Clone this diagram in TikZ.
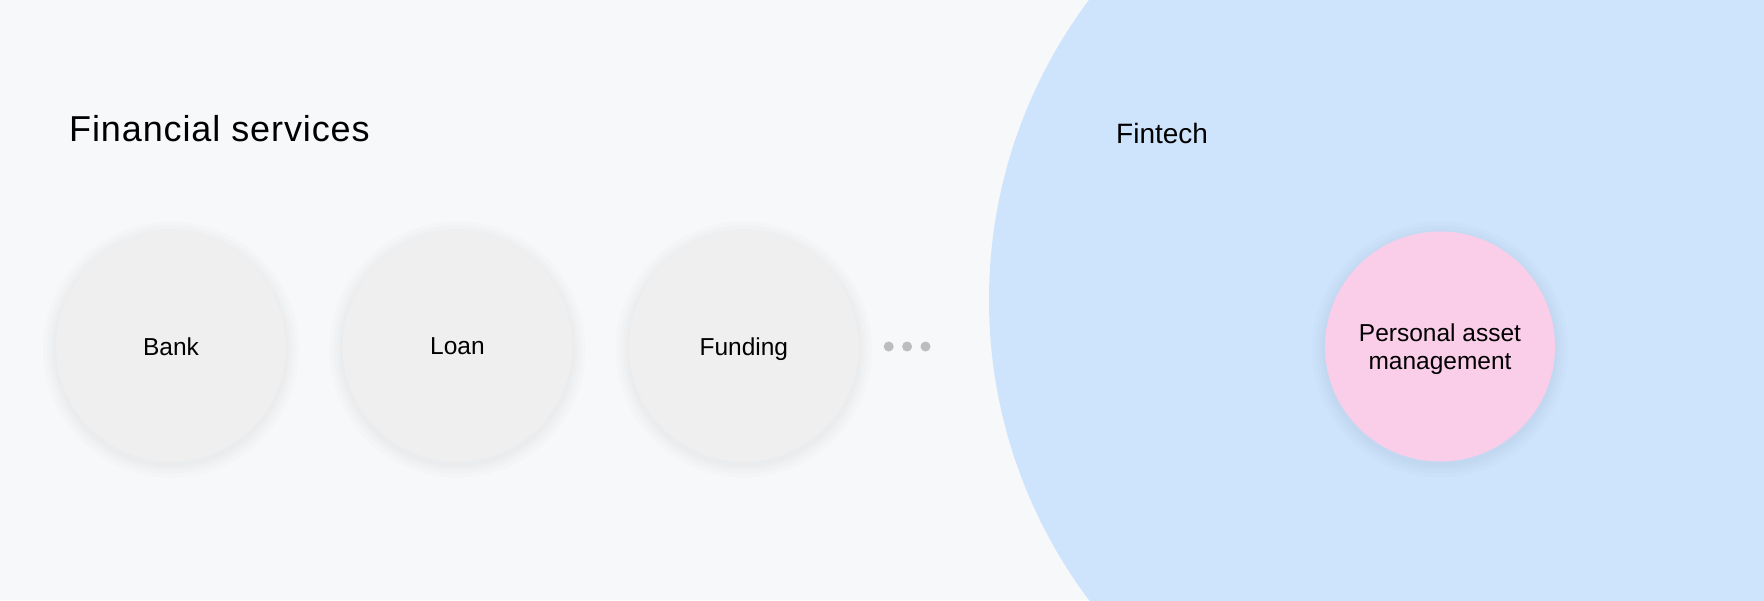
\documentclass[tikz,border=0pt]{standalone}
\usepackage{fontspec}
\setmainfont{Liberation Sans}
\newfontfamily\titlefont[LetterSpace=2.5]{Liberation Sans}
\usepackage{xcolor}
\usetikzlibrary{positioning}

\definecolor{pagebg}{HTML}{F7F8FA}
\definecolor{servicefill}{HTML}{EFEFEF}
\definecolor{fintechfill}{HTML}{CEE4FD}
\definecolor{pamfill}{HTML}{FACDE9}
\definecolor{dotgray}{HTML}{BDBDBD}
\definecolor{shadowgray}{HTML}{5A6070}

\begin{document}
\begin{tikzpicture}[
    x=1pt, y=-1pt,
    node distance=56pt,
    service/.style={circle, fill=servicefill, minimum size=230pt, inner sep=0pt, text depth=0pt, font=\fontsize{24.5}{28.5}\selectfont,
        preaction={draw=shadowgray, draw opacity=0.018, line width=26pt, transform canvas={yshift=-3pt}},
        preaction={draw=shadowgray, draw opacity=0.018, line width=18pt, transform canvas={yshift=-3pt}},
        preaction={draw=shadowgray, draw opacity=0.018, line width=11pt, transform canvas={yshift=-3pt}},
        preaction={draw=shadowgray, draw opacity=0.018, line width=5pt, transform canvas={yshift=-3pt}}},
    fintech/.style={service, fill=pamfill, align=center},
    dot/.style={circle, fill=dotgray, minimum size=10pt, inner sep=0pt},
    heading/.style={anchor=base west, inner sep=0pt}
]
    \clip (0,0) rectangle (1764,600);
    \fill[pagebg] (0,0) rectangle (1764,600);
    \node[circle, fill=fintechfill, minimum size=1000pt, inner sep=0pt] (fintechzone) at (1489,300) {};

    \node[heading, font=\titlefont\fontsize{36}{40}\selectfont] (fstitle) at (69,141.7) {Financial services};
    \node[heading, font=\fontsize{28}{32}\selectfont] (fttitle) at (1116,143.3) {Fintech};

    \node[service] (bank) at (171,346.5) {Bank};
    \node[service, right=of bank] (loan) {Loan};
    \node[service, right=of loan] (funding) {Funding};
    \node[dot, right=24.5pt of funding] (dotA) {};
    \node[dot, right=8pt of dotA] (dotB) {};
    \node[dot, right=8pt of dotB] (dotC) {};

    \node[fintech] (pam) at (1440,346.5) {Personal asset\\ management};
\end{tikzpicture}
\end{document}
